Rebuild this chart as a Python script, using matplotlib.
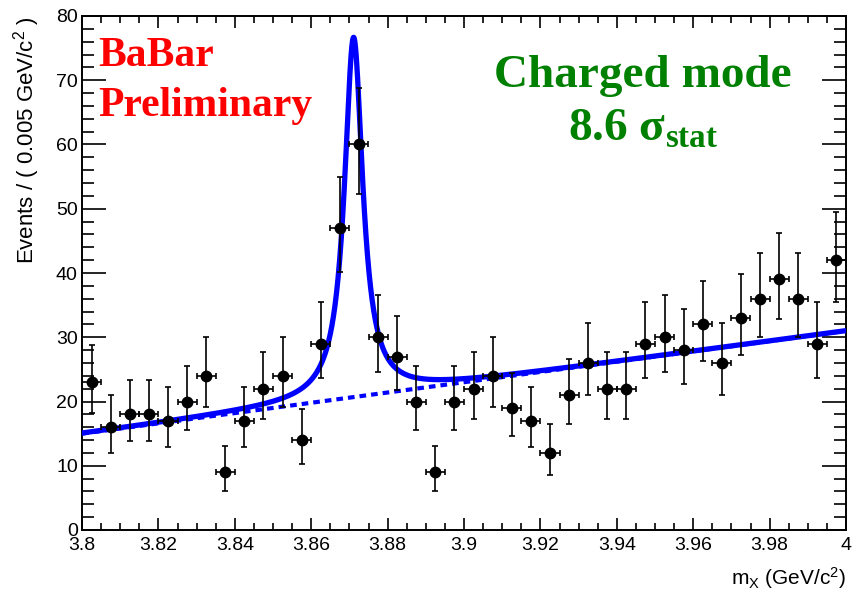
import numpy as np
import matplotlib
matplotlib.use('Agg')
import matplotlib.pyplot as plt
from matplotlib.ticker import MultipleLocator

# histogram, 0.005 GeV bins from 3.8 to 4.0
x_lo, x_hi, bin_width = 3.8, 4.0, 0.005
counts = [23, 16, 18, 18, 17, 20, 24, 9, 17, 22,
          24, 14, 29, 47, 60, 30, 27, 20, 9, 20,
          22, 24, 19, 17, 12, 21, 26, 22, 22, 29,
          30, 28, 32, 26, 33, 36, 39, 36, 29, 42]
x_ticklabels = ['3.8', '3.82', '3.84', '3.86', '3.88', '3.9',
                '3.92', '3.94', '3.96', '3.98', '4']

# fit result (linear background + Breit-Wigner peak)
bkg_lo, bkg_hi = 15.0, 31.0
peak_mass = 3.8711
peak_height = 56.0
peak_hwhm = 0.0029


def poisson_errors(n):
    # Gehrels approximation of the 68% Poisson interval
    n = np.asarray(n, dtype=float)
    lo = n - n * (1 - 1 / (9 * n) - 1 / (3 * np.sqrt(n))) ** 3
    hi = (n + 1) * (1 - 1 / (9 * (n + 1)) + 1 / (3 * np.sqrt(n + 1))) ** 3 - n
    return lo, hi


def background(m):
    return bkg_lo + (bkg_hi - bkg_lo) * (m - x_lo) / (x_hi - x_lo)


def total(m):
    return background(m) + peak_height / (1 + ((m - peak_mass) / peak_hwhm) ** 2)


plt.rcParams['font.family'] = 'Liberation Sans'
plt.rcParams['mathtext.fontset'] = 'custom'
plt.rcParams['mathtext.rm'] = 'Liberation Sans'
plt.rcParams['mathtext.it'] = 'Liberation Sans'
plt.rcParams['mathtext.bf'] = 'Liberation Serif:bold'

fig = plt.figure(figsize=(8.52, 5.92), dpi=100)
ax = fig.add_axes([82 / 852, 1 - 530 / 592, 764 / 852, 514 / 592])

centers = x_lo + bin_width * (np.arange(len(counts)) + 0.5)
err_lo, err_hi = poisson_errors(counts)

m = np.linspace(x_lo, x_hi, 2000)
ax.plot(m, background(m), color='#0000ff', lw=3.0, ls=(0, (1.6, 1.2)), zorder=2)
ax.plot(m, total(m), color='#0000ff', lw=3.8, zorder=3)

ax.errorbar(centers, counts, yerr=[err_lo, err_hi], xerr=bin_width / 2,
            fmt='o', color='black', ms=7.5, elinewidth=1.2, capsize=2.5,
            capthick=1.2, zorder=4)

ax.set_xlim(x_lo, x_hi)
ax.set_ylim(0, 80)
ax.set_xticks(np.arange(len(x_ticklabels)) * 0.02 + x_lo)
ax.set_xticklabels(x_ticklabels)
ax.xaxis.set_minor_locator(MultipleLocator(0.005))
ax.yaxis.set_major_locator(MultipleLocator(10))
ax.yaxis.set_minor_locator(MultipleLocator(2))

ax.tick_params(which='both', direction='in', top=True, right=True,
               width=1.2, labelsize=14)
ax.tick_params(axis='y', which='major', length=17, pad=3)
ax.tick_params(axis='y', which='minor', length=8.5)
ax.tick_params(axis='x', which='major', length=8.5, pad=5)
ax.tick_params(axis='x', which='minor', length=5)
for s in ax.spines.values():
    s.set_linewidth(1.4)

ax.set_ylabel('Events / ( 0.005 GeV/c$^{2}$ )', loc='top', fontsize=16, labelpad=10)
ax.set_xlabel('m$_{X}$ (GeV/c$^{2}$)', loc='right', fontsize=15, labelpad=8)

fig.text(98 / 852, 1 - 66 / 592, 'BaBar', color='#ff0000', fontsize=30,
         family='Liberation Serif', weight='bold')
fig.text(98 / 852, 1 - 116 / 592, 'Preliminary', color='#ff0000', fontsize=30,
         family='Liberation Serif', weight='bold')
fig.text(643 / 852, 1 - 87 / 592, 'Charged mode', color='#008000', fontsize=34,
         family='Liberation Serif', weight='bold', ha='center')
fig.text(643 / 852, 1 - 140 / 592, '8.6 σ$_{\\mathbf{stat}}$', color='#008000',
         fontsize=34, family='Liberation Serif', weight='bold', ha='center')

fig.savefig('out.png', dpi=100)
